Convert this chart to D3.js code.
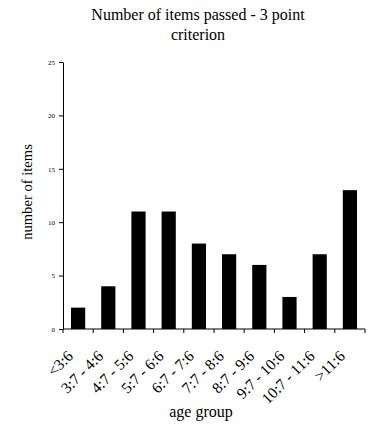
<!DOCTYPE html>
<html>
<head>
<meta charset="utf-8">
<script src="https://cdn.jsdelivr.net/npm/d3@7"></script>
<style>
  body { margin: 0; background: #fff; }
  text { font-family: "Liberation Serif", "Times New Roman", serif; fill: #000; }
</style>
</head>
<body>
<div class="svg-content"></div>
<script>
const ageGroups = ["<3:6", "3:7 - 4:6", "4:7 - 5:6", "5:7 - 6:6", "6:7 - 7:6",
                   "7:7 - 8:6", "8:7 - 9:6", "9:7 - 10:6", "10:7 - 11:6", ">11:6"];
const itemsPassed = [2, 4, 11, 11, 8, 7, 6, 3, 7, 13];
const yTicks = [0, 5, 10, 15, 20, 25];
const titleLines = ["Number of items passed - 3 point", "criterion"];

const svgWidth = 374;
const svgHeight = 425;
const plotLeft = 63, plotRight = 365, plotTop = 62, plotBottom = 329;

const svg = d3.select(".svg-content")
              .append("svg")
              .attr("width", svgWidth)
              .attr("height", svgHeight);

const xScale = d3.scaleBand()
                 .domain(ageGroups)
                 .range([plotLeft, plotRight])
                 .paddingInner(0.53)
                 .paddingOuter(0.265);

const xBand = d3.scaleBand().domain(ageGroups).range([plotLeft, plotRight]);

const yScale = d3.scaleLinear()
                 .domain([0, 25])
                 .range([plotBottom, plotTop]);

// title
svg.append("g")
   .selectAll("text")
   .data(titleLines)
   .enter()
   .append("text")
   .attr("x", 198)
   .attr("y", (d, i) => 20 + i * 20)
   .attr("text-anchor", "middle")
   .style("font-size", "16px")
   .text(d => d);

// bars
svg.selectAll("rect")
   .data(itemsPassed)
   .enter()
   .append("rect")
   .attr("x", (d, i) => xScale(ageGroups[i]))
   .attr("y", d => yScale(d))
   .attr("width", xScale.bandwidth())
   .attr("height", d => yScale(0) - yScale(d))
   .attr("fill", "#000");

// y axis
const yAxis = d3.axisLeft(yScale)
                .tickValues(yTicks)
                .tickSize(4)
                .tickPadding(4)
                .tickSizeOuter(0);

const yg = svg.append("g")
              .attr("transform", "translate(" + plotLeft + ",0)")
              .call(yAxis);
yg.selectAll("text")
  .style("font-family", "'Liberation Serif', serif")
  .style("font-size", "7px");
yg.selectAll("line, path").attr("stroke", "#000");

// x axis: ticks at band boundaries
const xg = svg.append("g");
xg.append("line")
  .attr("x1", plotLeft).attr("x2", plotRight)
  .attr("y1", plotBottom).attr("y2", plotBottom)
  .attr("stroke", "#000");
xg.selectAll(".xtick")
  .data(ageGroups.concat(["end"]))
  .enter()
  .append("line")
  .attr("class", "xtick")
  .attr("x1", (d, i) => plotLeft + i * xBand.bandwidth())
  .attr("x2", (d, i) => plotLeft + i * xBand.bandwidth())
  .attr("y1", plotBottom)
  .attr("y2", plotBottom + 4)
  .attr("stroke", "#000");

xg.selectAll(".xlabel")
  .data(ageGroups)
  .enter()
  .append("text")
  .attr("class", "xlabel")
  .attr("text-anchor", "end")
  .style("font-size", "15.5px")
  .attr("transform", d => {
    const cx = xBand(d) + xBand.bandwidth() / 2 - 4;
    return "translate(" + cx + "," + (plotBottom + 28) + ") rotate(-45)";
  })
  .text(d => d);

// axis titles
svg.append("text")
   .attr("x", 201)
   .attr("y", 417)
   .attr("text-anchor", "middle")
   .style("font-size", "16px")
   .text("age group");

svg.append("text")
   .attr("transform", "translate(32,192) rotate(-90)")
   .attr("text-anchor", "middle")
   .style("font-size", "14.6px")
   .text("number of items");
</script>
</body>
</html>
